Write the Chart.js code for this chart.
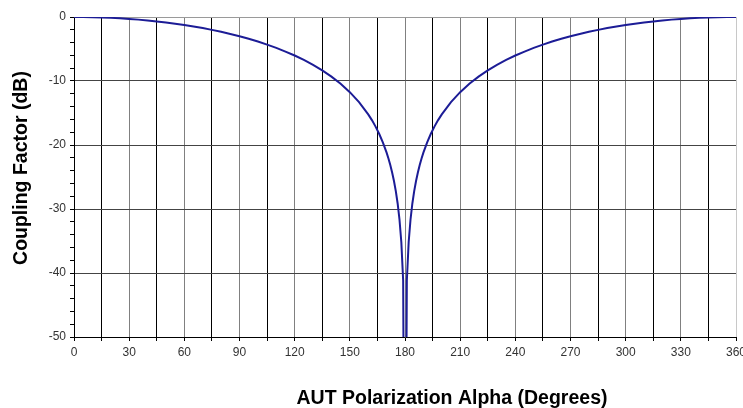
<!DOCTYPE html>
<html>
<head>
<meta charset="utf-8">
<script src="https://cdn.jsdelivr.net/npm/chart.js@4.4.1/dist/chart.umd.min.js"></script>
<style>
  html, body { margin: 0; padding: 0; background: #fff; }
  #wrap { width: 743px; height: 408px; position: relative; }
</style>
</head>
<body>
<div id="wrap"><canvas id="chart"></canvas></div>
<script>
// --- data ---
const alphaDeg = [0, 5, 10, 15, 20, 25, 30, 35, 40, 45, 50, 55, 60, 65, 70, 75, 80, 85, 90,
    95, 100, 105, 110, 115, 120, 125, 130, 135, 140, 145, 150, 155, 160, 162, 164, 166, 168,
    170, 171, 172, 173, 174, 175, 176, 177, 178, 179, 180,
    181, 182, 183, 184, 185, 186, 187, 188, 189, 190, 192, 194, 196, 198, 200, 205, 210, 215,
    220, 225, 230, 235, 240, 245, 250, 255, 260, 265, 270, 275, 280, 285, 290, 295, 300, 305,
    310, 315, 320, 325, 330, 335, 340, 345, 350, 355, 360];
const couplingDb = [0, -0.01, -0.03, -0.07, -0.13, -0.21, -0.30, -0.41, -0.54, -0.69, -0.86, -1.04, -1.25, -1.48, -1.73, -2.01, -2.32, -2.65, -3.01,
    -3.41, -3.84, -4.31, -4.83, -5.40, -6.02, -6.71, -7.48, -8.34, -9.32, -10.44, -11.74, -13.29, -15.21, -16.11, -17.13, -18.28, -19.62,
    -21.19, -22.11, -23.13, -24.29, -25.62, -27.21, -29.14, -31.64, -35.16, -41.18, -100,
    -41.18, -35.16, -31.64, -29.14, -27.21, -25.62, -24.29, -23.13, -22.11, -21.19, -19.62, -18.28, -17.13, -16.11, -15.21, -13.29, -11.74, -10.44,
    -9.32, -8.34, -7.48, -6.71, -6.02, -5.40, -4.83, -4.31, -3.84, -3.41, -3.01, -2.65, -2.32, -2.01, -1.73, -1.48, -1.25, -1.04,
    -0.86, -0.69, -0.54, -0.41, -0.30, -0.21, -0.13, -0.07, -0.03, -0.01, 0];
const xMin = 0, xMax = 360, xStep = 15, xLabelStep = 30;
const yMin = -50, yMax = 0, yStep = 2, yLabelStep = 10;
const xTitle = 'AUT Polarization Alpha (Degrees)';
const yTitle = 'Coupling Factor (dB)';

const FONT = 'Arial, "Liberation Sans", sans-serif';

// axis titles drawn by hand so they sit where the original has them
const axisTitles = {
    id: 'axisTitles',
    afterDraw(chart) {
        const ctx = chart.ctx;
        ctx.save();
        ctx.fillStyle = '#000';
        ctx.font = 'bold 19.5px ' + FONT;
        ctx.textAlign = 'center';
        ctx.textBaseline = 'middle';
        ctx.fillText(xTitle, 452, 399);
        ctx.translate(22, 168);
        ctx.rotate(-Math.PI / 2);
        ctx.fillText(yTitle, 0, 0);
        ctx.restore();
    }
};

const points = alphaDeg.map((a, i) => ({ x: a, y: couplingDb[i] }));

new Chart(document.getElementById('chart'), {
    type: 'line',
    data: {
        datasets: [{
            data: points,
            borderColor: '#1c1c96',
            borderWidth: 2,
            pointRadius: 0,
            tension: 0,
            fill: false,
            clip: 0
        }]
    },
    options: {
        responsive: true,
        maintainAspectRatio: false,
        animation: false,
        layout: { padding: { left: 0, right: 7, top: 17, bottom: 0 } },
        plugins: {
            legend: { display: false },
            tooltip: { enabled: false }
        },
        scales: {
            x: {
                type: 'linear',
                min: xMin,
                max: xMax,
                border: { display: true, color: '#000', width: 1 },
                grid: {
                    color: (c) => {
                        const v = c.tick.value;
                        if (v === xMin) return 'rgba(0,0,0,0)';
                        if (v === xMax) return '#c8c8c8';
                        return v % xLabelStep === 0 ? '#808080' : '#000';
                    },
                    tickColor: '#000',
                    tickLength: 4
                },
                ticks: {
                    stepSize: xStep,
                    autoSkip: false,
                    maxRotation: 0,
                    padding: 4,
                    color: '#333',
                    font: { family: FONT, size: 12 },
                    callback: (v) => (v % xLabelStep === 0 ? v : '')
                },
                afterFit(scale) {
                    scale.height = 71;
                    scale.paddingLeft = 0;
                    scale.paddingRight = 0;
                }
            },
            y: {
                type: 'linear',
                min: yMin,
                max: yMax,
                border: { display: true, color: '#000', width: 1 },
                grid: {
                    color: (c) => {
                        const v = c.tick.value;
                        if (v === yMin) return 'rgba(0,0,0,0)';
                        if (v === yMax) return '#9a9a9a';
                        return v % yLabelStep === 0 ? '#444' : 'rgba(0,0,0,0)';
                    },
                    tickColor: '#000',
                    tickLength: 4
                },
                ticks: {
                    stepSize: yStep,
                    autoSkip: false,
                    padding: 4,
                    color: '#333',
                    font: { family: FONT, size: 12 },
                    callback: (v) => (v % yLabelStep === 0 ? v : '')
                },
                afterFit(scale) {
                    scale.width = 74;
                    scale.paddingTop = 0;
                    scale.paddingBottom = 0;
                }
            }
        }
    },
    plugins: [axisTitles]
});
</script>
</body>
</html>
